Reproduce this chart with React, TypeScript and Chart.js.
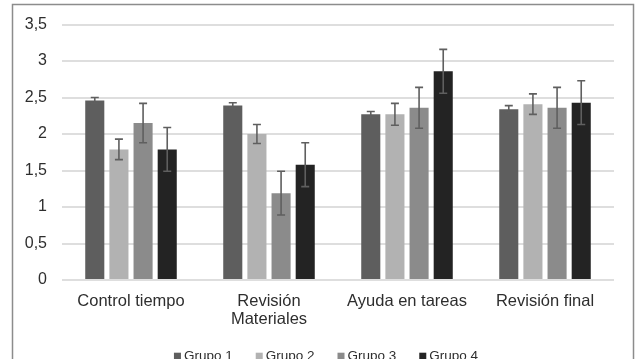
import React, { useEffect, useRef } from "react";
import { Chart, registerables } from "chart.js";

Chart.register(...registerables);

const categories: (string | string[])[] = [
  "Control tiempo",
  ["Revisión", "Materiales"],
  "Ayuda en tareas",
  "Revisión final",
];

const seriesNames = ["Grupo 1", "Grupo 2", "Grupo 3", "Grupo 4"];

const grupo1 = [2.46, 2.39, 2.27, 2.34];
const grupo2 = [1.79, 2.0, 2.27, 2.41];
const grupo3 = [2.15, 1.19, 2.36, 2.36];
const grupo4 = [1.79, 1.58, 2.86, 2.43];

const err1 = [0.04, 0.04, 0.04, 0.05];
const err2 = [0.14, 0.13, 0.15, 0.14];
const err3 = [0.27, 0.3, 0.28, 0.28];
const err4 = [0.3, 0.3, 0.3, 0.3];

const yTickValues = [0, 0.5, 1, 1.5, 2, 2.5, 3, 3.5];
const yTickLabels = ["0", "0,5", "1", "1,5", "2", "2,5", "3", "3,5"];

const colors = ["#5e5e5e", "#b2b2b2", "#8b8b8b", "#232323"];

const FONT = "'Liberation Sans', Arial, sans-serif";
const TEXT = "#2e2e2e";

export default function App() {
  const ref = useRef<HTMLCanvasElement | null>(null);

  useEffect(() => {
    const canvas = ref.current;
    if (!canvas) return;
    const values = [grupo1, grupo2, grupo3, grupo4];
    const errors = [err1, err2, err3, err4];

    const frame = {
      id: "frame",
      beforeDraw(chart: any) {
        const ctx = chart.ctx;
        ctx.save();
        ctx.fillStyle = "#ffffff";
        ctx.fillRect(0, 0, chart.width, chart.height);
        ctx.strokeStyle = "#8c8c8c";
        ctx.lineWidth = 1.5;
        ctx.strokeRect(12.5, 4.5, 621, 420);
        ctx.restore();
      },
    };

    const errorBars = {
      id: "errorBars",
      afterDatasetsDraw(chart: any) {
        const ctx = chart.ctx;
        const y = chart.scales.y;
        ctx.save();
        ctx.strokeStyle = "#5f5f5f";
        ctx.lineWidth = 1.6;
        chart.data.datasets.forEach((ds: any, i: number) => {
          const meta = chart.getDatasetMeta(i);
          meta.data.forEach((el: any, j: number) => {
            const v = ds.data[j];
            const e = errors[i][j];
            const x = el.x;
            const top = y.getPixelForValue(v + e);
            const bot = y.getPixelForValue(v - e);
            const cap = 4;
            ctx.beginPath();
            ctx.moveTo(x, top);
            ctx.lineTo(x, bot);
            ctx.moveTo(x - cap, top);
            ctx.lineTo(x + cap, top);
            ctx.moveTo(x - cap, bot);
            ctx.lineTo(x + cap, bot);
            ctx.stroke();
          });
        });
        ctx.restore();
      },
    };

    const legend = {
      id: "customLegend",
      afterDraw(chart: any) {
        const ctx = chart.ctx;
        ctx.save();
        ctx.font = `13.5px ${FONT}`;
        const box = 7;
        const gapText = 3;
        const gapItem = 23;
        const items = chart.data.datasets.map((ds: any) => ({
          label: ds.label,
          color: ds.backgroundColor,
          w: box + gapText + ctx.measureText(ds.label).width,
        }));
        const total =
          items.reduce((s: number, it: any) => s + it.w, 0) +
          gapItem * (items.length - 1);
        let x = 326 - total / 2;
        const baseline = 359.6;
        items.forEach((it: any) => {
          ctx.fillStyle = it.color;
          ctx.fillRect(x, 352.7, box, box);
          ctx.fillStyle = TEXT;
          ctx.textBaseline = "alphabetic";
          ctx.textAlign = "left";
          ctx.fillText(it.label, x + box + gapText, baseline);
          x += it.w + gapItem;
        });
        ctx.restore();
      },
    };

    const chart = new Chart(canvas, {
      type: "bar",
      data: {
        labels: categories,
        datasets: seriesNames.map((name, i) => ({
          label: name,
          data: values[i],
          backgroundColor: colors[i],
          borderWidth: 0,
          categoryPercentage: 0.7,
          barPercentage: 0.79,
        })),
      },
      options: {
        responsive: false,
        animation: false,
        layout: { padding: { left: 12, right: 23, top: 24, bottom: 0 } },
        plugins: {
          legend: { display: false },
          tooltip: { enabled: false },
        },
        scales: {
          x: {
            grid: { display: false, drawTicks: false },
            border: { display: false },
            ticks: {
              color: TEXT,
              font: { family: FONT, size: 16.5, lineHeight: 1.12 },
              padding: 12,
              maxRotation: 0,
              autoSkip: false,
            },
            afterFit(scale: any) {
              scale.height = 79;
            },
          },
          y: {
            min: 0,
            max: 3.5,
            grid: { color: "#dedede", lineWidth: 2, drawTicks: false },
            border: { display: false },
            ticks: {
              stepSize: 0.5,
              color: TEXT,
              font: { family: FONT, size: 16 },
              padding: 15,
              callback: (v: any) => {
                const idx = yTickValues.indexOf(Number(v));
                return idx >= 0 ? yTickLabels[idx] : "";
              },
            },
            afterFit(scale: any) {
              scale.width = 50;
            },
          },
        },
      },
      plugins: [frame, errorBars, legend],
    });
    return () => chart.destroy();
  }, []);

  return (
    <div
      style={{
        position: "fixed",
        left: 0,
        top: 0,
        width: 637,
        height: 359,
        overflow: "hidden",
        background: "#fff",
      }}
    >
      <canvas ref={ref} width={637} height={359} style={{ display: "block" }} />
    </div>
  );
}
